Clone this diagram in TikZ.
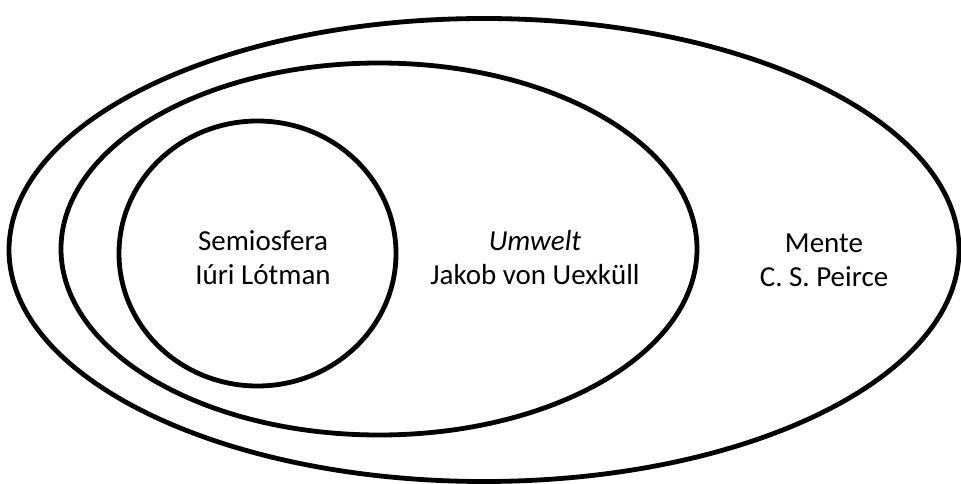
\documentclass[tikz,border=0pt]{standalone}
\usepackage{fontspec}
\setmainfont{Carlito}
\usepackage{tikz}
\usetikzlibrary{shapes.geometric}

\begin{document}
\begin{tikzpicture}[x=1pt,y=-1pt,line width=4.8pt,
        sphere/.style={draw,ellipse,inner sep=0pt},
        label/.style={align=center,font=\fontsize{29}{34}\selectfont}]
      \useasboundingbox (0,0) rectangle (961,484);
      \node[sphere,minimum width=950pt,minimum height=463pt] (mente) at (484,250) {};
      \node[sphere,minimum width=636pt,minimum height=372pt] (umwelt) at (379,249) {};
      \node[sphere,minimum width=277pt,minimum height=265pt] (semio) at (257.5,253.5) {};
      \node[label] (tsemio) at (263,258) {Semiosfera\\Iúri Lótman};
      \node[label] (tumwelt) at (535,258) {\textit{Umwelt}\\Jakob von Uexküll};
      \node[label] (tmente) at (824,260) {Mente\\C. S. Peirce};
    \end{tikzpicture}
\end{document}
